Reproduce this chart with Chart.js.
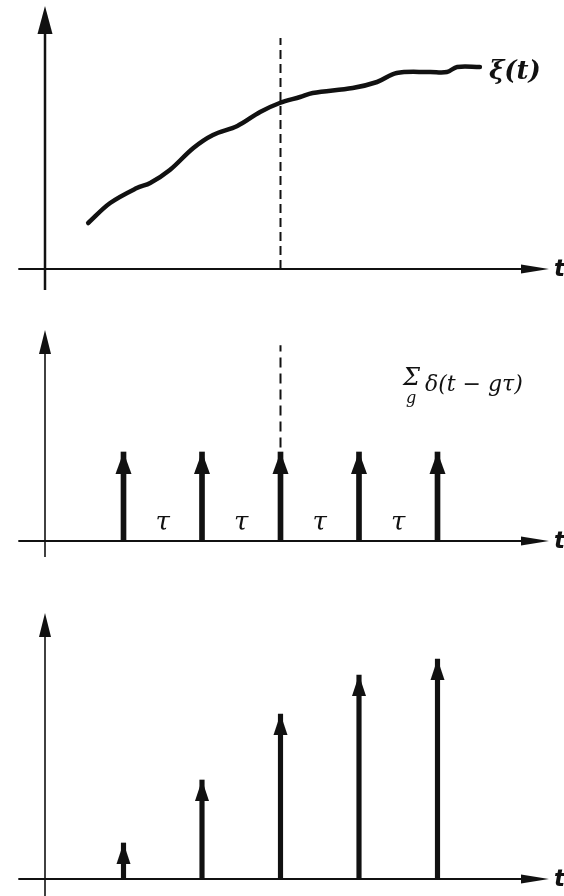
<!DOCTYPE html>
<html>
<head>
<meta charset="utf-8">
<script src="https://cdn.jsdelivr.net/npm/chart.js@4.4.1/dist/chart.umd.min.js"></script>
<style>
  html, body { margin: 0; padding: 0; background: #fff; }
  #wrap { position: relative; width: 564px; height: 896px; }
  canvas { position: absolute; left: 0; }
</style>
</head>
<body>
<div id="wrap">
  <canvas id="c1" width="564" height="300" style="top:0px"></canvas>
  <canvas id="c2" width="564" height="270" style="top:300px"></canvas>
  <canvas id="c3" width="564" height="326" style="top:570px"></canvas>
</div>
<script>
// time is measured in units of tau
const xiTimes  = [0.55, 0.83, 1.17, 1.34, 1.59, 1.89, 2.14, 2.45, 2.74, 2.99, 3.25, 3.41, 3.92, 4.23, 4.48, 4.90, 5.12, 5.25, 5.54];
const xiValues = [0.46, 0.66, 0.81, 0.86, 0.99, 1.21, 1.34, 1.43, 1.57, 1.66, 1.72, 1.76, 1.81, 1.87, 1.96, 1.97, 1.97, 2.02, 2.02];

const sampleTimes = [1, 2, 3, 4, 5];
const combHeights = [1, 1, 1, 1, 1];
const sampledValues = [0.36, 0.99, 1.65, 2.04, 2.20];

const tauLabelTimes = [1.5, 2.5, 3.5, 4.5];
const markTime = 3;

const INK = '#111';
const SERIF = '"DejaVu Serif", "Liberation Serif", serif';
const SANS = '"DejaVu Sans", sans-serif';

function tri(ctx, tipX, tipY, dx, dy, len, half) {
  // filled arrow head pointing along (dx, dy)
  const bx = tipX - dx * len, by = tipY - dy * len;
  ctx.beginPath();
  ctx.moveTo(tipX, tipY);
  ctx.lineTo(bx - dy * half, by + dx * half);
  ctx.lineTo(bx + dy * half, by - dx * half);
  ctx.closePath();
  ctx.fill();
}

// hand drawn style axes with arrows + arrow heads on the impulses + texts
const sketch = {
  id: 'sketch',
  beforeDatasetsDraw(chart, args, o) {
    const { ctx, scales: { x, y } } = chart;
    const x0 = x.getPixelForValue(0), y0 = y.getPixelForValue(0);
    ctx.save();
    ctx.strokeStyle = INK;
    ctx.fillStyle = INK;
    ctx.lineWidth = 2;
    // t axis
    const xa = x.getPixelForValue(o.xFrom), xb = x.getPixelForValue(o.xTo);
    ctx.beginPath(); ctx.moveTo(xa, y0); ctx.lineTo(xb - 10, y0); ctx.stroke();
    tri(ctx, xb, y0, 1, 0, 28, 4.5);
    // vertical axis
    const ya = y.getPixelForValue(o.yFrom), yb = y.getPixelForValue(o.yTo);
    ctx.lineWidth = o.yWidth;
    ctx.beginPath(); ctx.moveTo(x0, ya); ctx.lineTo(x0, yb + 10); ctx.stroke();
    tri(ctx, x0, yb, 0, -1, o.yHead[0], o.yHead[1]);
    // t label
    ctx.font = 'italic bold 23px ' + SANS;
    ctx.textAlign = 'left';
    ctx.textBaseline = 'middle';
    ctx.fillText('t', xb + 5, y0 + 1);
    ctx.restore();
  },
  afterDatasetsDraw(chart, args, o) {
    const { ctx, scales: { x, y } } = chart;
    ctx.save();
    ctx.fillStyle = INK;
    chart.data.datasets.forEach((ds, i) => {
      if (ds.type !== 'bar') return;
      chart.getDatasetMeta(i).data.forEach(el => tri(ctx, el.x, el.y, 0, -1, o.head[0], o.head[1]));
    });
    (o.texts || []).forEach(t => {
      ctx.font = t.font;
      ctx.textAlign = t.align || 'left';
      ctx.textBaseline = 'middle';
      const px = x.getPixelForValue(t.x) + (t.dx || 0);
      const py = y.getPixelForValue(t.y) + (t.dy || 0);
      ctx.fillText(t.text, px, py);
      if (t.sub) {
        ctx.font = t.sub.font;
        ctx.fillText(t.sub.text, px + t.sub.dx, py + t.sub.dy);
      }
    });
    ctx.restore();
  }
};

function baseOptions(yMin, yMax, plug) {
  return {
    responsive: false,
    animation: false,
    events: [],
    layout: { padding: 0 },
    elements: { point: { radius: 0 } },
    plugins: { legend: { display: false }, tooltip: { enabled: false }, sketch: plug },
    scales: {
      x: { type: 'linear', display: false, offset: false, min: -45 / 78.5, max: 519 / 78.5 },
      y: { type: 'linear', display: false, min: yMin, max: yMax }
    }
  };
}

// panel 1: the continuous process xi(t)
new Chart(document.getElementById('c1'), {
  type: 'line',
  data: {
    datasets: [
      {
        data: xiTimes.map((t, i) => ({ x: t, y: xiValues[i] })),
        borderColor: INK, borderWidth: 4.5, tension: 0.35,
        borderCapStyle: 'round', fill: false
      },
      {
        data: [{ x: markTime, y: 0 }, { x: markTime, y: 2.31 }],
        borderColor: INK, borderWidth: 2, borderDash: [9, 5], fill: false
      }
    ]
  },
  options: baseOptions(-0.31, 2.69, {
    xFrom: -0.34, xTo: 6.42, yFrom: -0.21, yTo: 2.63, yWidth: 2.5, yHead: [28, 7.5], head: [20, 7],
    texts: [
      { text: 'ξ(t)', x: xiTimes[xiTimes.length - 1], y: xiValues[xiValues.length - 1], dx: 9, dy: 5,
        font: 'italic bold 26px ' + SERIF }
    ]
  }),
  plugins: [sketch]
});

// panel 2: the sampling comb
new Chart(document.getElementById('c2'), {
  type: 'bar',
  data: {
    datasets: [
      {
        type: 'bar',
        data: sampleTimes.map((t, i) => ({ x: t, y: combHeights[i] })),
        backgroundColor: INK, barThickness: 5, grouped: false
      },
      {
        type: 'line',
        data: [{ x: markTime, y: 1.05 }, { x: markTime, y: 2.2 }],
        borderColor: INK, borderWidth: 2, borderDash: [10, 6], fill: false
      }
    ]
  },
  options: baseOptions(-29 / 89, 241 / 89, {
    xFrom: -0.34, xTo: 6.42, yFrom: -0.18, yTo: 2.37, yWidth: 1.6, yHead: [24, 6], head: [22, 8],
    texts: [
      { text: 'δ(t − gτ)', x: 4.84, y: 1.75, font: 'italic 22px ' + SERIF },
      { text: 'Σ', x: 4.56, y: 1.82, font: 'italic 24px ' + SERIF,
        sub: { text: 'g', dx: 3, dy: 20, font: 'italic 16px ' + SERIF } }
    ].concat(tauLabelTimes.map(t => ({ text: 'τ', x: t, y: 0.2, align: 'center', font: 'italic 26px ' + SERIF })))
  }),
  plugins: [sketch]
});

// panel 3: the sampled process
new Chart(document.getElementById('c3'), {
  type: 'bar',
  data: {
    datasets: [
      {
        type: 'bar',
        data: sampleTimes.map((t, i) => ({ x: t, y: sampledValues[i] })),
        backgroundColor: INK, barThickness: 4.5, grouped: false
      }
    ]
  },
  options: baseOptions(-0.17, 3.09, {
    xFrom: -0.34, xTo: 6.42, yFrom: -0.17, yTo: 2.66, yWidth: 1.6, yHead: [24, 6], head: [21, 7],
    texts: []
  }),
  plugins: [sketch]
});
</script>
</body>
</html>
